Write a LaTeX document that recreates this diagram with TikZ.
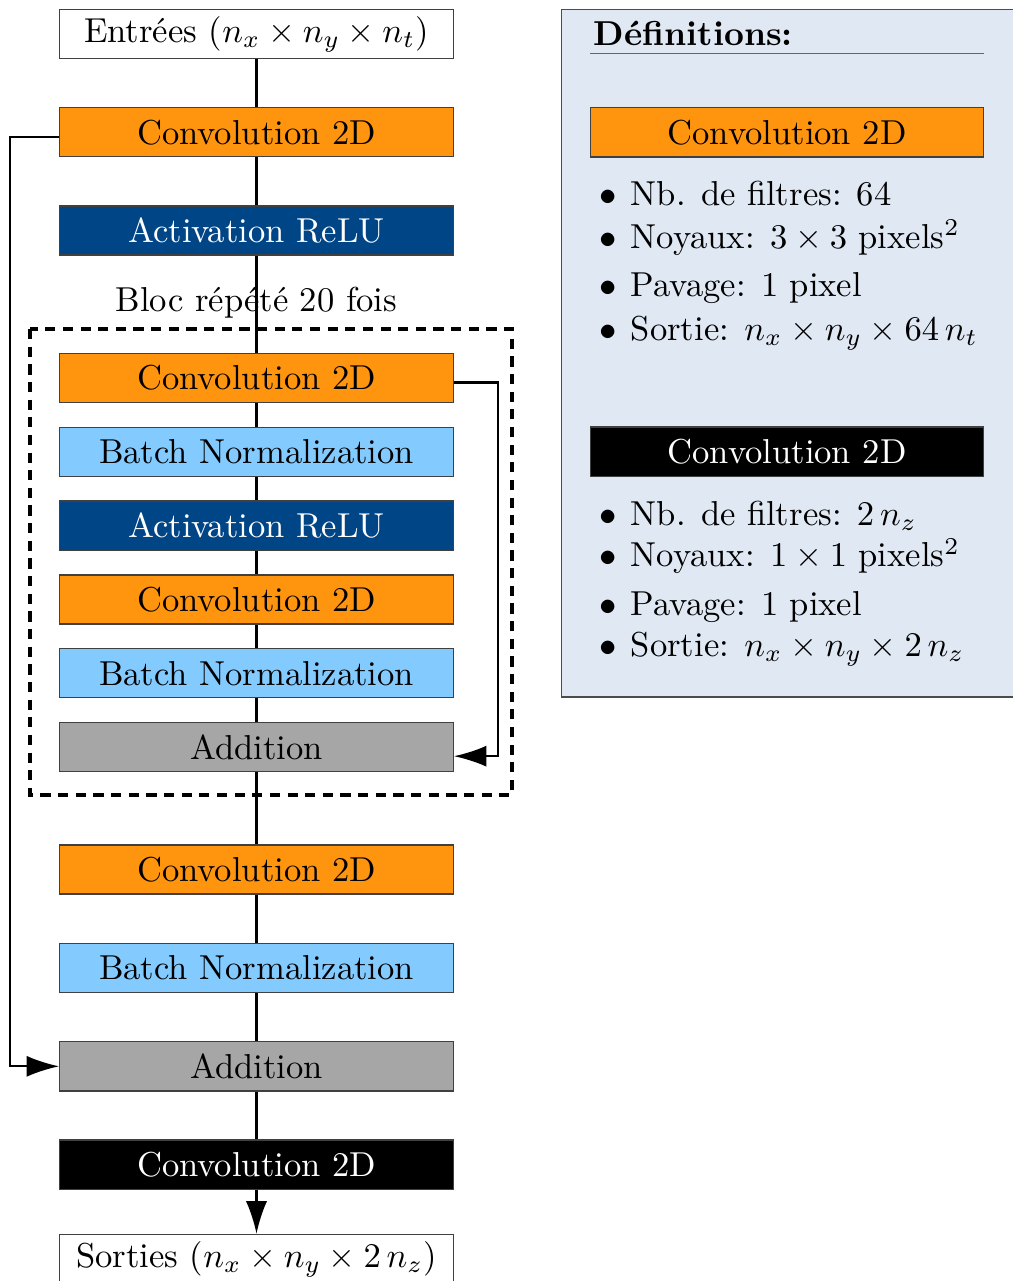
\documentclass[tikz,border=0pt]{standalone}
\usetikzlibrary{arrows.meta}

\definecolor{convorange}{HTML}{FF950E}
\definecolor{reludark}{HTML}{004586}
\definecolor{bnlight}{HTML}{83CAFF}
\definecolor{addgray}{HTML}{A6A6A6}
\definecolor{panelbg}{HTML}{E0E8F3}

\begin{document}
\begin{tikzpicture}[x=0.289pt, y=-0.289pt,
  layer/.style={draw=black!75, line width=0.4pt, minimum width=113.7pt,
                minimum height=14.2pt, inner sep=0pt},
  conv/.style={layer, fill=convorange},
  relu/.style={layer, fill=reludark, text=white},
  bn/.style={layer, fill=bnlight},
  addl/.style={layer, fill=addgray},
  convout/.style={layer, fill=black, text=white},
  io/.style={layer, fill=white},
  link/.style={line width=0.62pt},
  tip/.style={-{Latex[length=9.4pt,width=6.1pt]}},
  defitem/.style={anchor=base west, inner sep=0pt},
]
\useasboundingbox (0,0) rectangle (1013,1281);

% Definitions panel
\draw[draw=black!70, fill=panelbg, line width=0.4pt] (561.5,9.5) rectangle (1040,697);
\node[defitem] (deftitle) at (593,45) {\textbf{Définitions:}};
\draw[black!60, line width=0.4pt] (590,53.3) -- (983.5,53.3);

\node[conv] (defconv) at (787,132.3) {Convolution 2D};
\node[defitem] (d1a) at (599,205)   {\makebox[9.0pt][l]{$\bullet$}Nb. de filtres: 64};
\node[defitem] (d1b) at (599,248)   {\makebox[9.0pt][l]{$\bullet$}Noyaux: $3\times 3$ pixels$^2$};
\node[defitem] (d1c) at (599,296.5) {\makebox[9.0pt][l]{$\bullet$}Pavage: 1 pixel};
\node[defitem] (d1d) at (599,340.5) {\makebox[9.0pt][l]{$\bullet$}Sortie: $n_x \times n_y \times 64\,n_t$};

\node[convout] (defout) at (787,451.7) {Convolution 2D};
\node[defitem] (d2a) at (599,525)   {\makebox[9.0pt][l]{$\bullet$}Nb. de filtres: $2\,n_z$};
\node[defitem] (d2b) at (599,566.7) {\makebox[9.0pt][l]{$\bullet$}Noyaux: $1\times 1$ pixels$^2$};
\node[defitem] (d2c) at (599,615.7) {\makebox[9.0pt][l]{$\bullet$}Pavage: 1 pixel};
\node[defitem] (d2d) at (599,656.7) {\makebox[9.0pt][l]{$\bullet$}Sortie: $n_x \times n_y \times 2\,n_z$};

% Repeated residual block frame
\node[anchor=base, inner sep=0pt] (bloclabel) at (256.5,311.7) {Bloc répété 20 fois};
\draw[line width=1.2pt, dash pattern=on 2.95pt off 2.15pt] (30,329) rectangle (512,795);

% Network layers
\node[io]      (in)    at (256.5,34)     {Entrées ($n_x \times n_y \times n_t$)};
\node[conv]    (conv1) at (256.5,132.2)  {Convolution 2D};
\node[relu]    (act1)  at (256.5,230.6)  {Activation ReLU};
\node[conv]    (conv2) at (256.5,378)    {Convolution 2D};
\node[bn]      (bn1)   at (256.5,451.8)  {Batch Normalization};
\node[relu]    (act2)  at (256.5,525.7)  {Activation ReLU};
\node[conv]    (conv3) at (256.5,599.5)  {Convolution 2D};
\node[bn]      (bn2)   at (256.5,673.2)  {Batch Normalization};
\node[addl]    (add1)  at (256.5,747)    {Addition};
\node[conv]    (conv4) at (256.5,869.5)  {Convolution 2D};
\node[bn]      (bn3)   at (256.5,968)    {Batch Normalization};
\node[addl]    (add2)  at (256.5,1066.3) {Addition};
\node[convout] (convb) at (256.5,1164.7) {Convolution 2D};
\node[io]      (out)   at (256.5,1259)   {Sorties ($n_x \times n_y \times 2\,n_z$)};

% Main data flow
\foreach \a/\b in {in/conv1, conv1/act1, act1/conv2, conv2/bn1, bn1/act2,
                   act2/conv3, conv3/bn2, bn2/add1, add1/conv4, conv4/bn3,
                   bn3/add2, add2/convb}
  \draw[link] (\a) -- (\b);
\draw[link, tip] (convb) -- (out);

% Skip connections
\draw[link, tip] ([yshift=-1.3pt]conv1.west) -- ++(-49,0) |- (add2.west);
\draw[link, tip] ([yshift=-1.3pt]conv2.east) -- ++(44,0) |- ([yshift=-2.65pt]add1.east);
\end{tikzpicture}
\end{document}
